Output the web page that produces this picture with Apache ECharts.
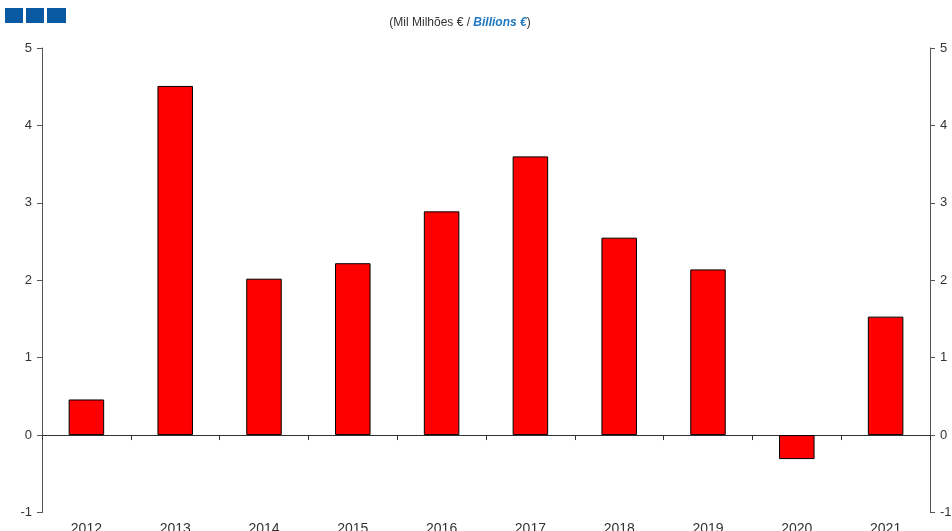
<!DOCTYPE html>
<html><head><meta charset="utf-8">
<script src="https://cdn.jsdelivr.net/npm/echarts@6/dist/echarts.min.js"></script>
<style>html,body{margin:0;padding:0;background:#fff}#c{width:952px;height:531px}</style>
</head><body><div id="c"></div>
<script>
var categories = ['2012','2013','2014','2015','2016','2017','2018','2019','2020','2021'];
var values = [0.46, 4.51, 2.02, 2.22, 2.89, 3.60, 2.55, 2.14, -0.31, 1.53];
var yTicks = {min: -1, max: 5, interval: 1};

var chart = echarts.init(document.getElementById('c'));
var axisColor = '#555';
var yAxisBase = {
  type: 'value', min: yTicks.min, max: yTicks.max, interval: yTicks.interval,
  splitLine: {show: false},
  axisLine: {show: true, lineStyle: {color: axisColor}},
  axisTick: {show: true, length: 5, lineStyle: {color: axisColor}},
  axisLabel: {color: '#333', fontSize: 13, fontFamily: 'Liberation Sans, Arial', margin: 10}
};
chart.setOption({
  animation: false,
  textStyle: {fontFamily: 'Liberation Sans, Arial'},
  title: {
    text: '{a|(Mil Milhões € / }{b|Billions €}{a|)}',
    left: 455, top: 12, textAlign: 'center',
    textStyle: {fontWeight: 'normal', rich: {
      a: {fontSize: 12, color: '#333', fontWeight: 'normal', fontFamily: 'Liberation Sans, Arial'},
      b: {fontSize: 12, color: '#1f78c1', fontStyle: 'italic', fontWeight: 'bold', fontFamily: 'Liberation Sans, Arial'}
    }}
  },
  graphic: [
    {type: 'rect', shape: {x: 5, y: 8, width: 18, height: 15}, style: {fill: '#0a5aa3'}},
    {type: 'rect', shape: {x: 26, y: 8, width: 18, height: 15}, style: {fill: '#0a5aa3'}},
    {type: 'rect', shape: {x: 47, y: 8, width: 19, height: 15}, style: {fill: '#0a5aa3'}}
  ],
  grid: {left: 42, right: 22, top: 48, bottom: 18.5, containLabel: false, outerBoundsMode: 'none'},
  xAxis: [
    {type: 'category', data: categories, position: 'bottom',
     axisLine: {onZero: true, lineStyle: {color: '#333'}},
     axisTick: {show: true, length: 5, inside: false, lineStyle: {color: '#333'}},
     axisLabel: {show: false}},
    {type: 'category', data: categories, position: 'bottom',
     axisLine: {show: false, onZero: false}, axisTick: {show: false},
     axisLabel: {color: '#333', fontSize: 14, margin: 10}}
  ],
  yAxis: [
    Object.assign({position: 'left'}, yAxisBase),
    Object.assign({position: 'right'}, yAxisBase)
  ],
  series: [{
    type: 'bar', data: values, xAxisIndex: 0, yAxisIndex: 0,
    barWidth: '40%',
    itemStyle: {color: '#ff0000', borderColor: '#000', borderWidth: 1}
  }]
});
</script>
</body></html>
